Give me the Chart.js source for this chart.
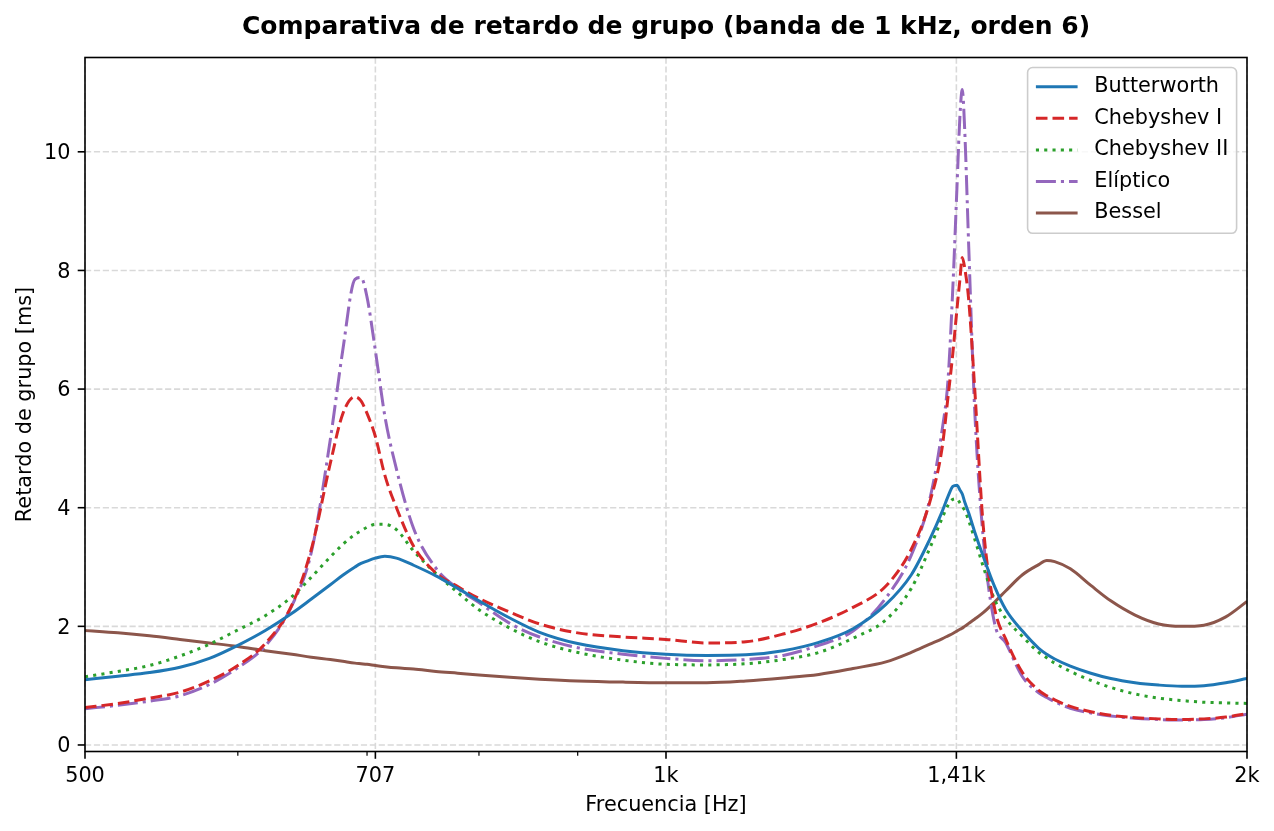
<!DOCTYPE html>
<html>
<head>
<meta charset="utf-8">
<title>Retardo de grupo</title>
<script src="https://cdn.jsdelivr.net/npm/chart.js@4.4.0/dist/chart.umd.min.js"></script>
<style>
    html, body { margin: 0; padding: 0; background: #fff; }
</style>
</head>
<body>
<canvas id="chart" width="1274" height="831"></canvas>
<script>
// Frecuencias (Hz) donde se leyeron las curvas
const freqs = [500, 520, 540, 560, 580, 600, 620, 640, 655, 670,
    680, 690, 695, 700, 707, 715, 725, 740, 760, 780,
    800, 830, 860, 900, 950, 1000, 1050, 1100, 1150, 1200,
    1250, 1300, 1340, 1370, 1390, 1400, 1408, 1415, 1420, 1424,
    1428, 1435, 1445, 1460, 1480, 1500, 1530, 1560, 1575, 1590,
    1620, 1660, 1700, 1750, 1800, 1850, 1900, 1950, 2000];

// Retardo de grupo [ms]
const butterworth = [1.10, 1.16, 1.22, 1.31, 1.46, 1.68, 1.93, 2.22, 2.46, 2.70,
    2.86, 3.00, 3.06, 3.10, 3.15, 3.18, 3.15, 3.03, 2.85, 2.64,
    2.43, 2.14, 1.90, 1.71, 1.59, 1.53, 1.51, 1.52, 1.59, 1.73,
    1.96, 2.37, 2.87, 3.47, 3.93, 4.19, 4.36, 4.38, 4.30, 4.23,
    4.10, 3.91, 3.60, 3.18, 2.67, 2.28, 1.92, 1.63, 1.53, 1.45,
    1.33, 1.21, 1.12, 1.05, 1.01, 0.99, 1.00, 1.05, 1.12];

const chebyshev1 = [0.63, 0.70, 0.79, 0.89, 1.08, 1.34, 1.71, 2.36, 3.30, 4.75,
    5.58, 5.87, 5.80, 5.59, 5.20, 4.55, 4.00, 3.35, 2.90, 2.67,
    2.47, 2.24, 2.04, 1.89, 1.82, 1.78, 1.72, 1.74, 1.87, 2.06,
    2.32, 2.68, 3.30, 4.10, 5.00, 5.87, 6.60, 7.35, 7.85, 8.22,
    8.05, 7.50, 6.05, 3.70, 2.30, 1.78, 1.22, 0.92, 0.83, 0.76,
    0.65, 0.56, 0.50, 0.46, 0.44, 0.43, 0.44, 0.47, 0.53];

const chebyshev2 = [1.15, 1.24, 1.34, 1.50, 1.70, 1.94, 2.18, 2.50, 2.83, 3.17,
    3.38, 3.55, 3.61, 3.67, 3.72, 3.72, 3.63, 3.27, 2.89, 2.57,
    2.28, 1.97, 1.74, 1.56, 1.43, 1.36, 1.35, 1.37, 1.44, 1.56,
    1.80, 2.11, 2.64, 3.32, 3.82, 4.04, 4.14, 4.15, 4.08, 4.02,
    3.96, 3.78, 3.48, 3.01, 2.45, 2.13, 1.83, 1.56, 1.47, 1.38,
    1.24, 1.09, 0.97, 0.86, 0.79, 0.75, 0.72, 0.71, 0.70];

const eliptico = [0.61, 0.67, 0.74, 0.83, 1.02, 1.30, 1.67, 2.35, 3.25, 5.15,
    6.65, 7.85, 7.88, 7.55, 6.65, 5.55, 4.65, 3.65, 2.98, 2.64,
    2.40, 2.05, 1.82, 1.64, 1.53, 1.46, 1.42, 1.44, 1.51, 1.68,
    1.92, 2.48, 3.20, 4.15, 5.30, 6.16, 7.70, 9.40, 10.60, 11.05,
    10.40, 8.40, 5.70, 3.50, 2.05, 1.72, 1.15, 0.88, 0.80, 0.73,
    0.62, 0.54, 0.49, 0.45, 0.43, 0.42, 0.43, 0.46, 0.52];

const bessel = [1.93, 1.89, 1.84, 1.78, 1.72, 1.66, 1.59, 1.53, 1.48, 1.44,
    1.41, 1.38, 1.37, 1.36, 1.34, 1.32, 1.30, 1.28, 1.24, 1.21,
    1.18, 1.14, 1.11, 1.08, 1.06, 1.05, 1.05, 1.08, 1.13, 1.19,
    1.29, 1.40, 1.56, 1.70, 1.79, 1.84, 1.88, 1.92, 1.95, 1.97,
    2.00, 2.05, 2.12, 2.23, 2.41, 2.60, 2.87, 3.04, 3.11, 3.09,
    2.97, 2.69, 2.43, 2.19, 2.04, 2.00, 2.02, 2.16, 2.42];

const xTickValues = [500, 707, 1000, 1414, 2000];
const xTickLabels = ['500', '707', '1k', '1,41k', '2k'];
const xMinorTicks = [600, 700, 800, 900];
const yTickValues = [0, 2, 4, 6, 8, 10];

const FONT = 'DejaVu Sans';
const GRID_COLOR = '#d9d9d9';

const seriesList = [
    { label: 'Butterworth', values: butterworth, color: '#1f77b4', dash: [] },
    { label: 'Chebyshev I', values: chebyshev1, color: '#d62728', dash: [11.6, 5] },
    { label: 'Chebyshev II', values: chebyshev2, color: '#2ca02c', dash: [3.1, 5.2] },
    { label: 'Elíptico', values: eliptico, color: '#9467bd', dash: [20, 5, 3.1, 5] },
    { label: 'Bessel', values: bessel, color: '#8c564b', dash: [] }
];

// grid, spines, ticks y leyenda al estilo matplotlib
const mplLook = {
    id: 'mplLook',
    beforeDatasetsDraw(chart) {
        const { ctx, chartArea: a, scales } = chart;
        ctx.save();
        ctx.strokeStyle = GRID_COLOR;
        ctx.lineWidth = 1.6;
        ctx.setLineDash([6.2, 2.7]);
        xTickValues.forEach(v => {
            const px = scales.x.getPixelForValue(v);
            ctx.beginPath(); ctx.moveTo(px, a.top); ctx.lineTo(px, a.bottom); ctx.stroke();
        });
        yTickValues.forEach(v => {
            const py = scales.y.getPixelForValue(v);
            ctx.beginPath(); ctx.moveTo(a.left, py); ctx.lineTo(a.right, py); ctx.stroke();
        });
        ctx.restore();
    },
    afterDatasetsDraw(chart) {
        const { ctx, chartArea: a, scales } = chart;
        ctx.save();
        ctx.setLineDash([]);
        ctx.strokeStyle = '#000';

        // ticks
        ctx.lineWidth = 1.6;
        xTickValues.forEach(v => {
            const px = scales.x.getPixelForValue(v);
            ctx.beginPath(); ctx.moveTo(px, a.bottom); ctx.lineTo(px, a.bottom + 7.3); ctx.stroke();
        });
        yTickValues.forEach(v => {
            const py = scales.y.getPixelForValue(v);
            ctx.beginPath(); ctx.moveTo(a.left, py); ctx.lineTo(a.left - 7.3, py); ctx.stroke();
        });
        ctx.lineWidth = 1.2;
        xMinorTicks.forEach(v => {
            const px = scales.x.getPixelForValue(v);
            ctx.beginPath(); ctx.moveTo(px, a.bottom); ctx.lineTo(px, a.bottom + 4.2); ctx.stroke();
        });

        // spines
        ctx.lineWidth = 1.6;
        ctx.strokeRect(a.left, a.top, a.right - a.left, a.bottom - a.top);

        drawLegend(chart);
        ctx.restore();
    }
};

function drawLegend(chart) {
    const { ctx, chartArea: a } = chart;
    const fontSize = 20.8;
    const rowGap = 31.6;
    const pad = 8.3;
    const handleLen = 41.7;
    const textGap = 16.7;

    ctx.font = `${fontSize}px "${FONT}"`;
    const datasets = chart.data.datasets;
    const textW = Math.max(...datasets.map(d => ctx.measureText(d.label).width));
    const w = pad + handleLen + textGap + textW + pad;
    const h = pad * 2 + fontSize + rowGap * (datasets.length - 1) + 2;
    const right = a.right - 10.4;
    const top = a.top + 10;
    const left = right - w;

    ctx.beginPath();
    ctx.roundRect(left, top, w, h, 5);
    ctx.fillStyle = 'rgba(255,255,255,0.8)';
    ctx.fill();
    ctx.strokeStyle = '#cccccc';
    ctx.lineWidth = 1.6;
    ctx.stroke();

    datasets.forEach((d, i) => {
        const cy = top + pad + fontSize / 2 + 0.5 + i * rowGap;
        ctx.strokeStyle = d.borderColor;
        ctx.lineWidth = d.borderWidth;
        ctx.setLineDash(d.borderDash);
        ctx.lineCap = 'butt';
        ctx.beginPath();
        ctx.moveTo(left + pad, cy);
        ctx.lineTo(left + pad + handleLen, cy);
        ctx.stroke();
        ctx.setLineDash([]);
        ctx.fillStyle = '#000';
        ctx.textBaseline = 'middle';
        ctx.textAlign = 'left';
        ctx.fillText(d.label, left + pad + handleLen + textGap, cy);
    });
}

const ctx = document.getElementById('chart');
new Chart(ctx, {
    type: 'line',
    data: {
        datasets: seriesList.map(s => ({
            label: s.label,
            data: freqs.map((f, i) => ({ x: f, y: s.values[i] })),
            borderColor: s.color,
            backgroundColor: s.color,
            borderWidth: 3,
            borderDash: s.dash,
            borderCapStyle: 'butt',
            pointRadius: 0,
            fill: false,
            cubicInterpolationMode: 'monotone'
        }))
    },
    options: {
        responsive: false,
        animation: false,
        devicePixelRatio: 1,
        layout: { padding: { left: 0, right: 27, top: 0, bottom: 0 } },
        plugins: {
            legend: { display: false },
            tooltip: { enabled: false },
            title: {
                display: true,
                fullSize: false,
                text: 'Comparativa de retardo de grupo (banda de 1 kHz, orden 6)',
                color: '#000',
                font: { family: FONT, size: 25, weight: 'bold' },
                padding: { top: 12.5, bottom: 15 }
            }
        },
        scales: {
            x: {
                type: 'logarithmic',
                min: 500,
                max: 2000,
                afterBuildTicks: (scale) => {
                    scale.ticks = xTickValues.map(v => ({ value: v }));
                },
                afterFit: (scale) => { scale.height = 79.5; },
                grid: { display: false, drawTicks: false },
                border: { display: false },
                ticks: {
                    autoSkip: false,
                    maxRotation: 0,
                    padding: 12.3,
                    color: '#000',
                    font: { family: FONT, size: 20.8 },
                    callback: (value, index) => xTickLabels[index]
                },
                title: {
                    display: true,
                    text: 'Frecuencia [Hz]',
                    color: '#000',
                    font: { family: FONT, size: 20.8 },
                    padding: { top: 0, bottom: 12.8 }
                }
            },
            y: {
                type: 'linear',
                min: -0.11,
                max: 11.59,
                afterBuildTicks: (scale) => {
                    scale.ticks = yTickValues.map(v => ({ value: v }));
                },
                afterFit: (scale) => { scale.width = 85; },
                grid: { display: false, drawTicks: false },
                border: { display: false },
                ticks: {
                    padding: 14.6,
                    labelOffset: 2,
                    color: '#000',
                    font: { family: FONT, size: 20.8 },
                    callback: (value) => String(value)
                },
                title: {
                    display: true,
                    text: 'Retardo de grupo [ms]',
                    color: '#000',
                    font: { family: FONT, size: 20.8 },
                    padding: { top: 13.5, bottom: 0 }
                }
            }
        }
    },
    plugins: [mplLook]
});
</script>
</body>
</html>
